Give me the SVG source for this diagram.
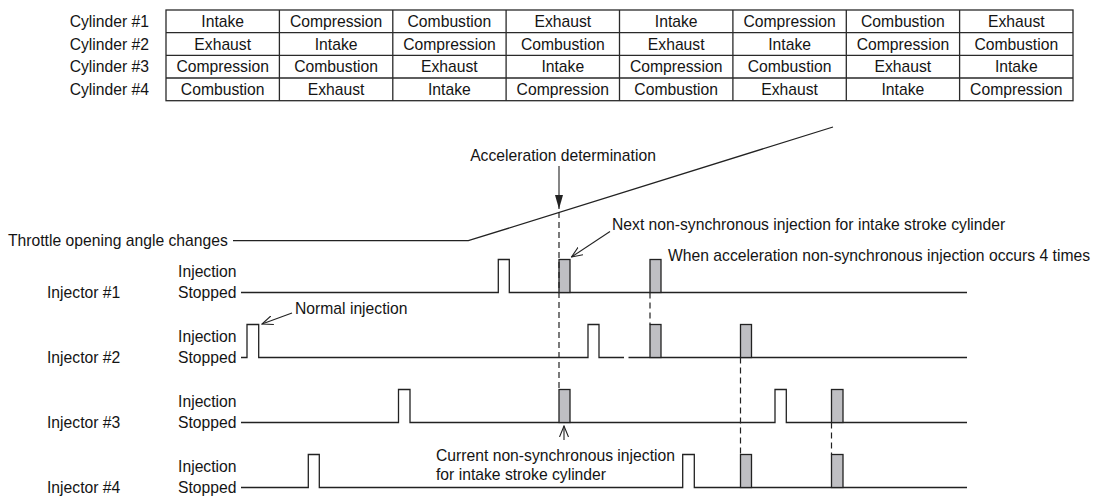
<svg xmlns="http://www.w3.org/2000/svg" width="1103" height="497" viewBox="0 0 1103 497">
  <style>
    text { font-family: "Liberation Sans", Arial, Helvetica, sans-serif; font-size: 15.7px; fill: #141414; }
    .mid { text-anchor: middle; }
    .end { text-anchor: end; }
    .grid { fill: none; stroke: #2a2a2a; stroke-width: 1.3; }
    .sig { fill: none; stroke: #222; stroke-width: 1.3; stroke-linejoin: miter; }
    .pulse { fill: #bfbfc3; stroke: #222; stroke-width: 1.3; }
    .dash { fill: none; stroke: #222; stroke-width: 1.2; stroke-dasharray: 6 4; }
    .lead { fill: none; stroke: #222; stroke-width: 1.1; }
  </style>
  <defs>
    <marker id="solidHead" viewBox="0 0 14 8" refX="14" refY="4" markerWidth="14" markerHeight="8" markerUnits="userSpaceOnUse" orient="auto">
      <path d="M0,0 L14,4 L0,8 Z" fill="#222"/>
    </marker>
    <marker id="openHead" viewBox="0 0 12 10" refX="11" refY="5" markerWidth="12" markerHeight="10" markerUnits="userSpaceOnUse" orient="auto">
      <path d="M0,0.5 L11,5 L0,9.5" fill="none" stroke="#222" stroke-width="1.1"/>
    </marker>
  </defs>

  <!-- stroke table: four cylinders over eight strokes -->
  <g id="stroke-table">
    <rect class="grid" x="166" y="10" width="907" height="90.7"/>
    <path class="grid" d="M166,32.7 H1073 M166,55.4 H1073 M166,78 H1073
             M279.4,10 V100.7 M392.8,10 V100.7 M506.1,10 V100.7 M619.5,10 V100.7
             M732.9,10 V100.7 M846.3,10 V100.7 M959.6,10 V100.7"/>
    <text class="end" x="149" y="27">Cylinder #1</text>
    <text class="end" x="149" y="49.7">Cylinder #2</text>
    <text class="end" x="149" y="72.4">Cylinder #3</text>
    <text class="end" x="149" y="95">Cylinder #4</text>

    <g class="row1">
      <text class="mid" x="222.7" y="27">Intake</text>
      <text class="mid" x="336.1" y="27">Compression</text>
      <text class="mid" x="449.4" y="27">Combustion</text>
      <text class="mid" x="562.8" y="27">Exhaust</text>
      <text class="mid" x="676.2" y="27">Intake</text>
      <text class="mid" x="789.6" y="27">Compression</text>
      <text class="mid" x="902.9" y="27">Combustion</text>
      <text class="mid" x="1016.3" y="27">Exhaust</text>
    </g>
    <g class="row2">
      <text class="mid" x="222.7" y="49.7">Exhaust</text>
      <text class="mid" x="336.1" y="49.7">Intake</text>
      <text class="mid" x="449.4" y="49.7">Compression</text>
      <text class="mid" x="562.8" y="49.7">Combustion</text>
      <text class="mid" x="676.2" y="49.7">Exhaust</text>
      <text class="mid" x="789.6" y="49.7">Intake</text>
      <text class="mid" x="902.9" y="49.7">Compression</text>
      <text class="mid" x="1016.3" y="49.7">Combustion</text>
    </g>
    <g class="row3">
      <text class="mid" x="222.7" y="72.4">Compression</text>
      <text class="mid" x="336.1" y="72.4">Combustion</text>
      <text class="mid" x="449.4" y="72.4">Exhaust</text>
      <text class="mid" x="562.8" y="72.4">Intake</text>
      <text class="mid" x="676.2" y="72.4">Compression</text>
      <text class="mid" x="789.6" y="72.4">Combustion</text>
      <text class="mid" x="902.9" y="72.4">Exhaust</text>
      <text class="mid" x="1016.3" y="72.4">Intake</text>
    </g>
    <g class="row4">
      <text class="mid" x="222.7" y="95">Combustion</text>
      <text class="mid" x="336.1" y="95">Exhaust</text>
      <text class="mid" x="449.4" y="95">Intake</text>
      <text class="mid" x="562.8" y="95">Compression</text>
      <text class="mid" x="676.2" y="95">Combustion</text>
      <text class="mid" x="789.6" y="95">Exhaust</text>
      <text class="mid" x="902.9" y="95">Intake</text>
      <text class="mid" x="1016.3" y="95">Compression</text>
    </g>
  </g>

  <!-- throttle opening trace -->
  <g id="throttle">
    <text x="8" y="246">Throttle opening angle changes</text>
    <path class="sig" d="M233,240.7 H468.3 L833,127"/>
  </g>

  <!-- injector #1 -->
  <g id="injector-1">
    <text x="47" y="297.5">Injector #1</text>
    <text class="end" x="236.5" y="277">Injection</text>
    <text class="end" x="236.5" y="297.5">Stopped</text>
    <path class="sig" d="M241,292.5 H498.3 V259.5 H509.3 V292.5 H967"/>
    <rect class="pulse" x="559" y="259.5" width="11" height="33"/>
    <rect class="pulse" x="650" y="259.5" width="11" height="33"/>
  </g>

  <!-- injector #2 -->
  <g id="injector-2">
    <text x="47" y="362.5">Injector #2</text>
    <text class="end" x="236.5" y="342">Injection</text>
    <text class="end" x="236.5" y="362.5">Stopped</text>
    <path class="sig" d="M241,357.5 H247 V324.5 H258.7 V357.5 H588 V324.5 H599 V357.5 H624 M628.5,357.5 H967"/>
    <rect class="pulse" x="650" y="324.5" width="11" height="33"/>
    <rect class="pulse" x="740.5" y="324.5" width="11" height="33"/>
  </g>

  <!-- injector #3 -->
  <g id="injector-3">
    <text x="47" y="427.5">Injector #3</text>
    <text class="end" x="236.5" y="407">Injection</text>
    <text class="end" x="236.5" y="427.5">Stopped</text>
    <path class="sig" d="M241,422.5 H398.5 V389.5 H410 V422.5 H775 V389.5 H786.3 V422.5 H967"/>
    <rect class="pulse" x="559" y="389.5" width="11" height="33"/>
    <rect class="pulse" x="831.5" y="389.5" width="11.5" height="33"/>
  </g>

  <!-- injector #4 -->
  <g id="injector-4">
    <text x="47" y="492.5">Injector #4</text>
    <text class="end" x="236.5" y="472">Injection</text>
    <text class="end" x="236.5" y="492.5">Stopped</text>
    <path class="sig" d="M241,487.5 H308.3 V454.5 H319.3 V487.5 H682.7 V454.5 H694.3 V487.5 H967"/>
    <rect class="pulse" x="740.5" y="454.5" width="11" height="33"/>
    <rect class="pulse" x="831.5" y="454.5" width="11.5" height="33"/>
  </g>

  <!-- annotation labels -->
  <g id="labels">
    <text class="mid" x="563" y="161">Acceleration determination</text>
    <text x="612" y="229.5">Next non-synchronous injection for intake stroke cylinder</text>
    <text x="668" y="260.5">When acceleration non-synchronous injection occurs 4 times</text>
    <text x="295" y="314">Normal injection</text>
    <text x="436" y="461">Current non-synchronous injection</text>
    <text x="436" y="480">for intake stroke cylinder</text>
  </g>

  <!-- connectors: pointer arrows and timing guides -->
  <g id="connectors">
    <line class="lead" x1="559" y1="166" x2="559" y2="209" marker-end="url(#solidHead)"/>
    <line class="lead" x1="610" y1="231.5" x2="571.5" y2="257" marker-end="url(#openHead)"/>
    <line class="lead" x1="292" y1="313" x2="262" y2="324" marker-end="url(#openHead)"/>
    <line class="lead" x1="564" y1="440" x2="564" y2="426" marker-end="url(#openHead)"/>

    <line class="dash" x1="559" y1="212" x2="559" y2="389.5"/>
    <line class="dash" x1="650" y1="292.5" x2="650" y2="324.5"/>
    <line class="dash" x1="740.5" y1="357.5" x2="740.5" y2="454.5"/>
    <line class="dash" x1="831.5" y1="422.5" x2="831.5" y2="454.5"/>
  </g>
</svg>
